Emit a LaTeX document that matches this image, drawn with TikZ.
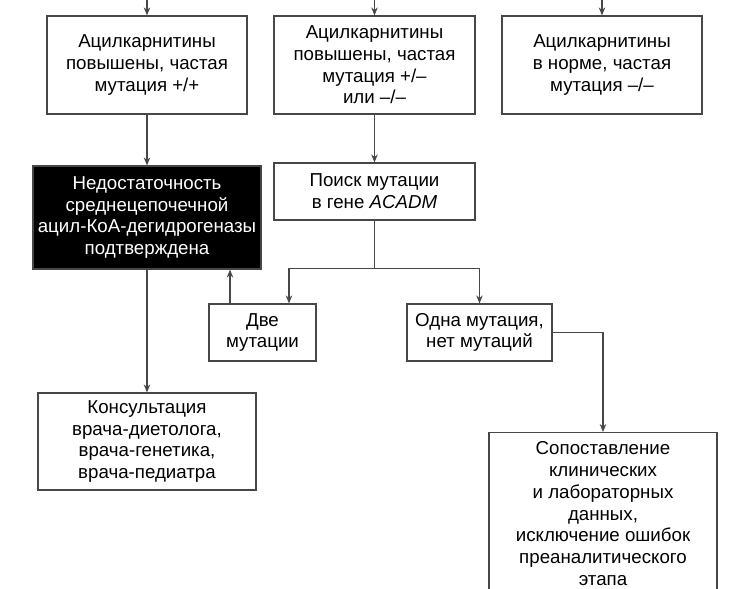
\documentclass[tikz,border=0pt]{standalone}
\usepackage{fontspec}
\setmainfont{Liberation Sans}
\usetikzlibrary{arrows.meta}
\definecolor{linec}{gray}{0.28}
\begin{document}
\begin{tikzpicture}[x=1pt,y=-1pt,
  box/.style={draw=linec, line width=1.2pt, rectangle, align=center, inner sep=0pt,
    font=\fontsize{18.7}{21.7}\selectfont, text=black},
  arr/.style={draw=linec, line width=1.2pt, -{Stealth[length=8pt,width=6.5pt]}},
  ln/.style={draw=linec, line width=1.2pt}]
\useasboundingbox (0,0) rectangle (753,589);
\clip (0,0) rectangle (753,589);
\fill[white] (0,0) rectangle (753,589);

\node[box, minimum width=200pt, minimum height=98pt] (A) at (147,65)
  {Ацилкарнитины\\повышены, частая\\мутация +/+};
\node[box, minimum width=201pt, minimum height=98pt] (B) at (374.5,65)
  {Ацилкарнитины\\повышены, частая\\мутация +/–\\или –/–};
\node[box, minimum width=200pt, minimum height=98pt] (C) at (602,65)
  {Ацилкарнитины\\в норме, частая\\мутация –/–};
\node[box, fill=black, text=white, minimum width=228pt, minimum height=103pt] (D) at (147,217.5)
  {Недостаточность\\среднецепочечной\\ацил-КоА-дегидрогеназы\\подтверждена};
\node[box, minimum width=201pt, minimum height=57pt] (E) at (374.5,191.5)
  {Поиск мутации\\в гене \textit{ACADM}};
\node[box, minimum width=107pt, minimum height=57pt] (F) at (262.5,332.5)
  {Две\\мутации};
\node[box, minimum width=145pt, minimum height=57pt] (G) at (479.5,332.5)
  {Одна мутация,\\нет мутаций};
\node[box, minimum width=218pt, minimum height=97pt] (H) at (147,441.5)
  {Консультация\\врача-диетолога,\\врача-генетика,\\врача-педиатра};
\node[box, minimum width=228pt, minimum height=162pt, anchor=north] (I) at (603,432)
  {Сопоставление\\клинических\\и лабораторных\\данных,\\исключение ошибок\\преаналитического\\этапа};

\coordinate (tA) at (147,-2);
\coordinate (tB) at (374.5,-2);
\coordinate (tC) at (602,-2);
\draw[arr] (tA) -- (A.north);
\draw[arr] (tB) -- (B.north);
\draw[arr] (tC) -- (C.north);

\draw[arr] (A) -- (D);
\draw[arr] (B) -- (E);
\draw[ln] (E.south) -- ++(0,48) coordinate (j);
\draw[arr] (j) -| ([xshift=26.5pt]F.north);
\draw[arr] (j) -| (G.north);
\draw[arr] ([xshift=-32.5pt]F.north) -- ([xshift=-32.5pt]F.north |- D.south);
\draw[arr] (D) -- (H);
\draw[arr] (G.east) -| (I.north);
\end{tikzpicture}
\end{document}
